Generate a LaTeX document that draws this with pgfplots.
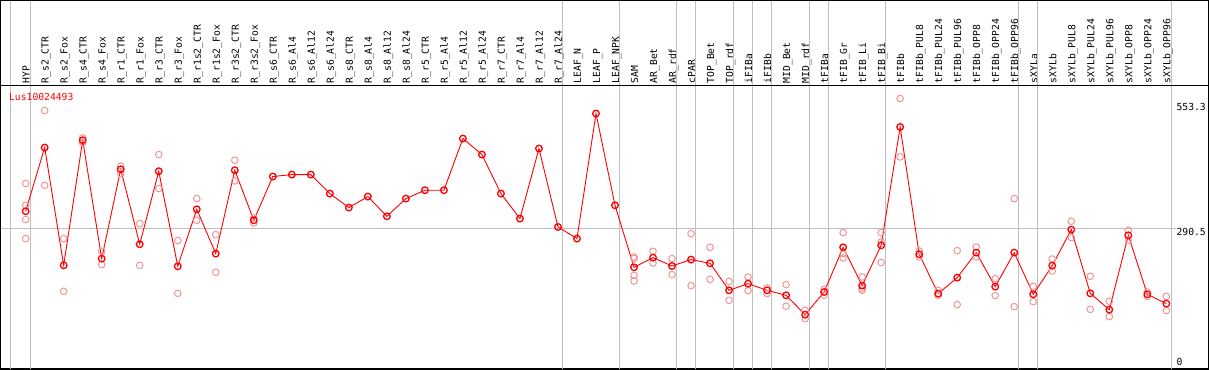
\documentclass[border=0pt]{standalone}
\usepackage{fontspec}
\newfontfamily\pix{DejaVu Sans Mono}
\usepackage{pgfplots}
\pgfplotsset{compat=1.18}
\definecolor{rep}{RGB}{240,150,150}
\definecolor{grd}{RGB}{192,192,192}
\newcommand{\pixf}{\pix\fontsize{9.7}{10}\selectfont}
\begin{document}
\begin{tikzpicture}
\begin{axis}[
 scale only axis, width=1207pt, height=368pt,
 xmin=-0.3158, xmax=63.211, ymin=-1, ymax=762.6,
 axis line style={line width=1.3pt, black},
 ytick=\empty,
 xtick={1,...,61},
 xticklabels={HYP,R\_s2\_CTR,R\_s2\_Fox,R\_s4\_CTR,R\_s4\_Fox,R\_r1\_CTR,R\_r1\_Fox,R\_r3\_CTR,R\_r3\_Fox,R\_r1s2\_CTR,R\_r1s2\_Fox,R\_r3s2\_CTR,R\_r3s2\_Fox,R\_s6\_CTR,R\_s6\_Al4,R\_s6\_Al12,R\_s6\_Al24,R\_s8\_CTR,R\_s8\_Al4,R\_s8\_Al12,R\_s8\_Al24,R\_r5\_CTR,R\_r5\_Al4,R\_r5\_Al12,R\_r5\_Al24,R\_r7\_CTR,R\_r7\_Al4,R\_r7\_Al12,R\_r7\_Al24,LEAF\_N,LEAF\_P,LEAF\_NPK,SAM,AR\_Bet,AR\_rdf,cPAR,TOP\_Bet,TOP\_rdf,iFIBa,iFIBb,MID\_Bet,MID\_rdf,tFIBa,tFIB\_Gr,tFIB\_Li,tFIB\_Bi,tFIBb,tFIBb\_PUL8,tFIBb\_PUL24,tFIBb\_PUL96,tFIBb\_OPP8,tFIBb\_OPP24,tFIBb\_OPP96,sXYLa,sXYLb,sXYLb\_PUL8,sXYLb\_PUL24,sXYLb\_PUL96,sXYLb\_OPP8,sXYLb\_OPP24,sXYLb\_OPP96},
 xticklabel pos=upper,
 major tick length=0pt,
 x tick label style={font=\pixf, text=black, inner sep=0pt, anchor=base west, xshift=4pt, yshift=-82.8pt, rotate=90},
 extra x ticks={0.2,1.247,29.247,32.247,35.247,36.247,38.247,39.247,40.247,42.247,43.247,46.247,53.247,54.247,61.247},
 extra x tick labels={},
 extra x tick style={grid=major, major grid style={grd, line width=1pt}},
 clip=false,
]
\draw[grd, line width=1pt] (axis cs:-0.3158,290.5) -- (axis cs:61.5,290.5);
\draw[black, line width=1.3pt] (axis cs:-0.3158,587.3) -- (axis cs:63.211,587.3);
\node[anchor=west, inner sep=0pt, text=red, font=\pixf] at (axis cs:0.12,562.4) {Lus10024493};
\node[overlay, anchor=west, inner sep=0pt, font=\pixf] at (axis cs:61.53,541.6) {553.3};
\node[overlay, anchor=west, inner sep=0pt, font=\pixf] at (axis cs:61.53,282.2) {290.5};
\node[overlay, anchor=west, inner sep=0pt, font=\pixf] at (axis cs:61.53,12.5) {0};
\addplot[only marks, mark=o, mark size=3.3pt, rep, mark options={line width=1pt}] coordinates {
(1,383.3) (1,338.2) (1,308.6) (1,269.1)
(2,534.7) (2,379.7)
(3,269.1) (3,159.8)
(4,477.9) (4,468.0)
(5,242.8) (5,215.1)
(6,419.8) (6,404.0)
(7,300.2) (7,213.7)
(8,443.4) (8,372.9)
(9,265.0) (9,155.6)
(10,352.1) (10,307.1)
(11,277.4) (11,199.2)
(12,431.6) (12,388.7)
(13,312.0) (13,301.5)
(33,231.0) (33,228.0) (33,193.0) (33,181.2)
(34,242.8) (34,218.5)
(35,227.6) (35,194.4)
(36,279.5) (36,171.6)
(37,251.1) (37,184.7)
(38,180.5) (38,141.1)
(39,189.5) (39,161.2)
(40,166.7) (40,155.0)
(41,173.7) (41,128.7)
(42,120.4) (42,103.1)
(43,163.9) (43,151.5)
(44,281.6) (44,238.0) (44,228.9)
(45,189.5) (45,165.4) (45,161.9)
(46,281.6) (46,262.1) (46,219.3)
(47,559.6) (47,438.5)
(48,243.4) (48,231.0)
(49,161.9) (49,151.5)
(50,244.2) (50,132.2)
(51,251.7) (51,231.0)
(52,186.1) (52,150.9)
(53,352.1) (53,128.0)
(54,170.2) (54,138.4)
(55,226.8) (55,201.9)
(56,305.0) (56,271.2)
(57,190.9) (57,122.4)
(58,139.0) (58,107.3)
(59,286.4) (59,265.6)
(60,158.3) (60,149.4)
(61,149.4) (61,119.7)
};
\addplot[red, line width=0.9pt, mark=o, mark size=3.3pt, mark options={line width=1.3pt}] coordinates {
(1,325.8) (2,458.0) (3,213.7) (4,473.1) (5,227.6) (6,412.9) (7,257.3) (8,408.8) (9,211.7) (10,329.9)
(11,238.0) (12,410.9) (13,307.1) (14,397.8) (15,401.9) (16,401.9) (17,362.5) (18,333.4) (19,356.3) (20,315.4)
(21,352.1) (22,369.4) (23,369.4) (24,476.6) (25,443.4) (26,362.5) (27,310.6) (28,455.9) (29,293.3) (30,269.1)
(31,528.5) (32,338.2) (33,209.6) (34,229.7) (35,212.3) (36,225.6) (37,217.9) (38,161.9) (39,175.7) (40,161.9)
(41,151.5) (42,111.4) (43,158.3) (44,251.1) (45,171.6) (46,255.2) (47,500.7) (48,236.6) (49,155.0) (50,188.2)
(51,240.1) (52,169.5) (53,240.1) (54,153.6) (55,213.1) (56,287.8) (57,155.6) (58,121.8) (59,276.0) (60,153.6)
(61,134.3)
};
\end{axis}
\end{tikzpicture}
\end{document}
